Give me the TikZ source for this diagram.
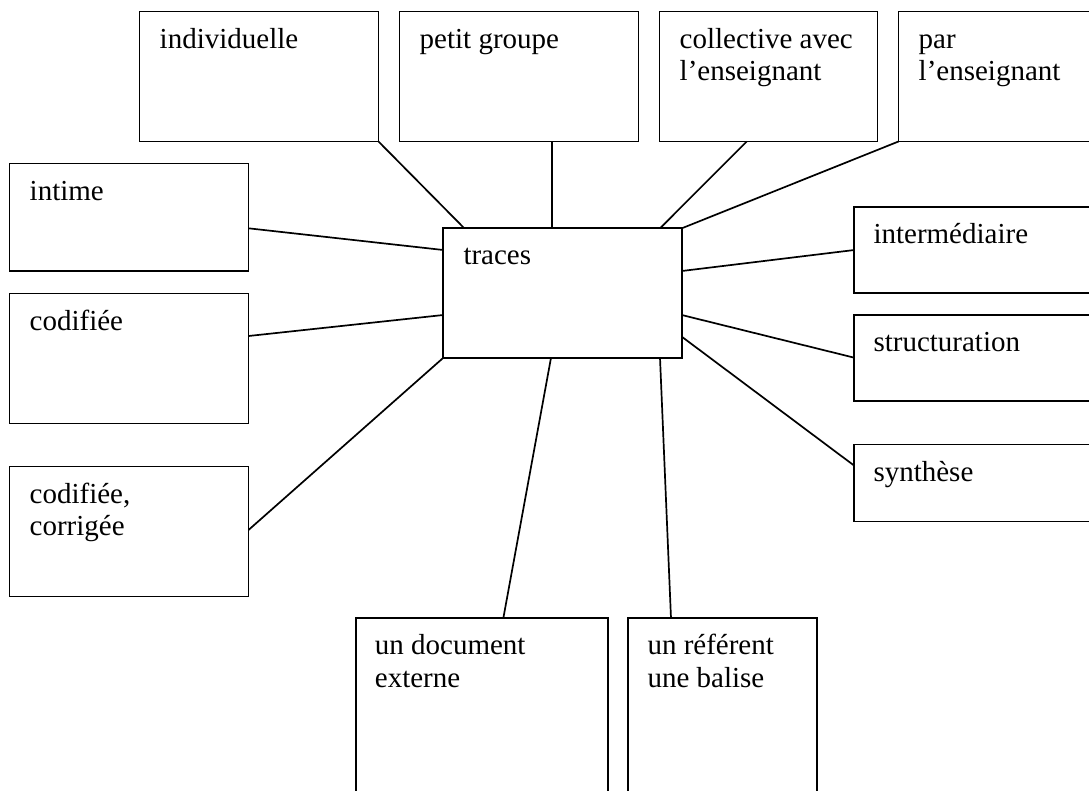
\documentclass[tikz,border=0pt]{standalone}
\usepackage{fontspec}
\setmainfont{Liberation Serif}
\begin{document}
\begin{tikzpicture}[x=1pt,y=-1pt,
  box/.style={draw, line width=1.8pt, anchor=north west, inner sep=0pt, outer sep=0pt, minimum width=#1},
  lbl/.style={anchor=base west, inner sep=0pt, font=\fontsize{29}{32.5}\selectfont, align=left},
  link/.style={line width=1.7pt}]
\clip (0,0) rectangle (1089,790);
\fill[white] (0,0) rectangle (1089,790);
% boxes
\node[box=239pt, minimum height=130pt] (ind) at (139.5,11.5) {};
\node[box=239pt, minimum height=130pt] (pg) at (399.5,11.5) {};
\node[box=218pt, minimum height=130pt] (coll) at (659.5,11.5) {};
\node[box=220pt, minimum height=130pt] (par) at (898.5,11.5) {};
\node[box=239pt, minimum height=107.5pt] (intime) at (9.5,163.5) {};
\node[box=239pt, minimum height=130pt] (cod) at (9.5,293.5) {};
\node[box=239pt, minimum height=130pt] (codcor) at (9.5,466.5) {};
\node[box=238.5pt, minimum height=129.5pt] (tr) at (443.3,228.3) {};
\node[box=250pt, minimum height=86pt] (inter) at (854.3,206.7) {};
\node[box=250pt, minimum height=86pt] (struct) at (854.3,315) {};
\node[box=250pt, minimum height=77pt] (synth) at (854.3,444.5) {};
\node[box=252pt, minimum height=200pt] (doc) at (355.7,618.3) {};
\node[box=189pt, minimum height=200pt] (ref) at (628.3,618.3) {};
% texts (two-line texts: base is the last line)
\node[lbl] (tind) at ([shift={(20,36.5)}]ind.north west) {individuelle};
\node[lbl] (tpg) at ([shift={(20,36.5)}]pg.north west) {petit groupe};
\node[lbl] (tcoll) at ([shift={(20,69)}]coll.north west) {collective avec\\l’enseignant};
\node[lbl] (tpar) at ([shift={(20,69)}]par.north west) {par\\l’enseignant};
\node[lbl] (tintime) at ([shift={(20,36.5)}]intime.north west) {intime};
\node[lbl] (tcod) at ([shift={(20,36.5)}]cod.north west) {codifiée};
\node[lbl] (tcodcor) at ([shift={(20,69)}]codcor.north west) {codifiée,\\corrigée};
\node[lbl] (ttr) at ([shift={(20,36)}]tr.north west) {traces};
\node[lbl] (tinter) at ([shift={(19,36.5)}]inter.north west) {intermédiaire};
\node[lbl] (tstruct) at ([shift={(19,36.5)}]struct.north west) {structuration};
\node[lbl] (tsynth) at ([shift={(19,36.5)}]synth.north west) {synthèse};
\node[lbl] (tdoc) at ([shift={(19,69)}]doc.north west) {un document\\externe};
\node[lbl] (tref) at ([shift={(19,69)}]ref.north west) {un référent\\une balise};
% connectors
\draw[link] (ind.south east) -- ([xshift=21pt]tr.north west);
\draw[link] ([xshift=152.2pt]pg.south west) -- ([xshift=108.4pt]tr.north west);
\draw[link] ([xshift=87.2pt]coll.south west) -- ([xshift=216.7pt]tr.north west);
\draw[link] (par.south west) -- (tr.north east);
\draw[link] ([yshift=-64.8pt]intime.north east) -- ([yshift=-21.7pt]tr.north west);
\draw[link] ([yshift=-42.5pt]cod.north east) -- ([yshift=-86.7pt]tr.north west);
\draw[link] ([yshift=-63.5pt]codcor.north east) -- (tr.south west);
\draw[link] ([yshift=-42.7pt]tr.north east) -- ([yshift=-43.3pt]inter.north west);
\draw[link] ([yshift=-86.7pt]tr.north east) -- ([yshift=-42.7pt]struct.north west);
\draw[link] ([yshift=-108.4pt]tr.north east) -- ([yshift=-21.2pt]synth.north west);
\draw[link] ([xshift=107.7pt]tr.south west) -- ([xshift=147.6pt]doc.north west);
\draw[link] ([xshift=216.7pt]tr.south west) -- ([xshift=42.7pt]ref.north west);
\end{tikzpicture}
\end{document}
